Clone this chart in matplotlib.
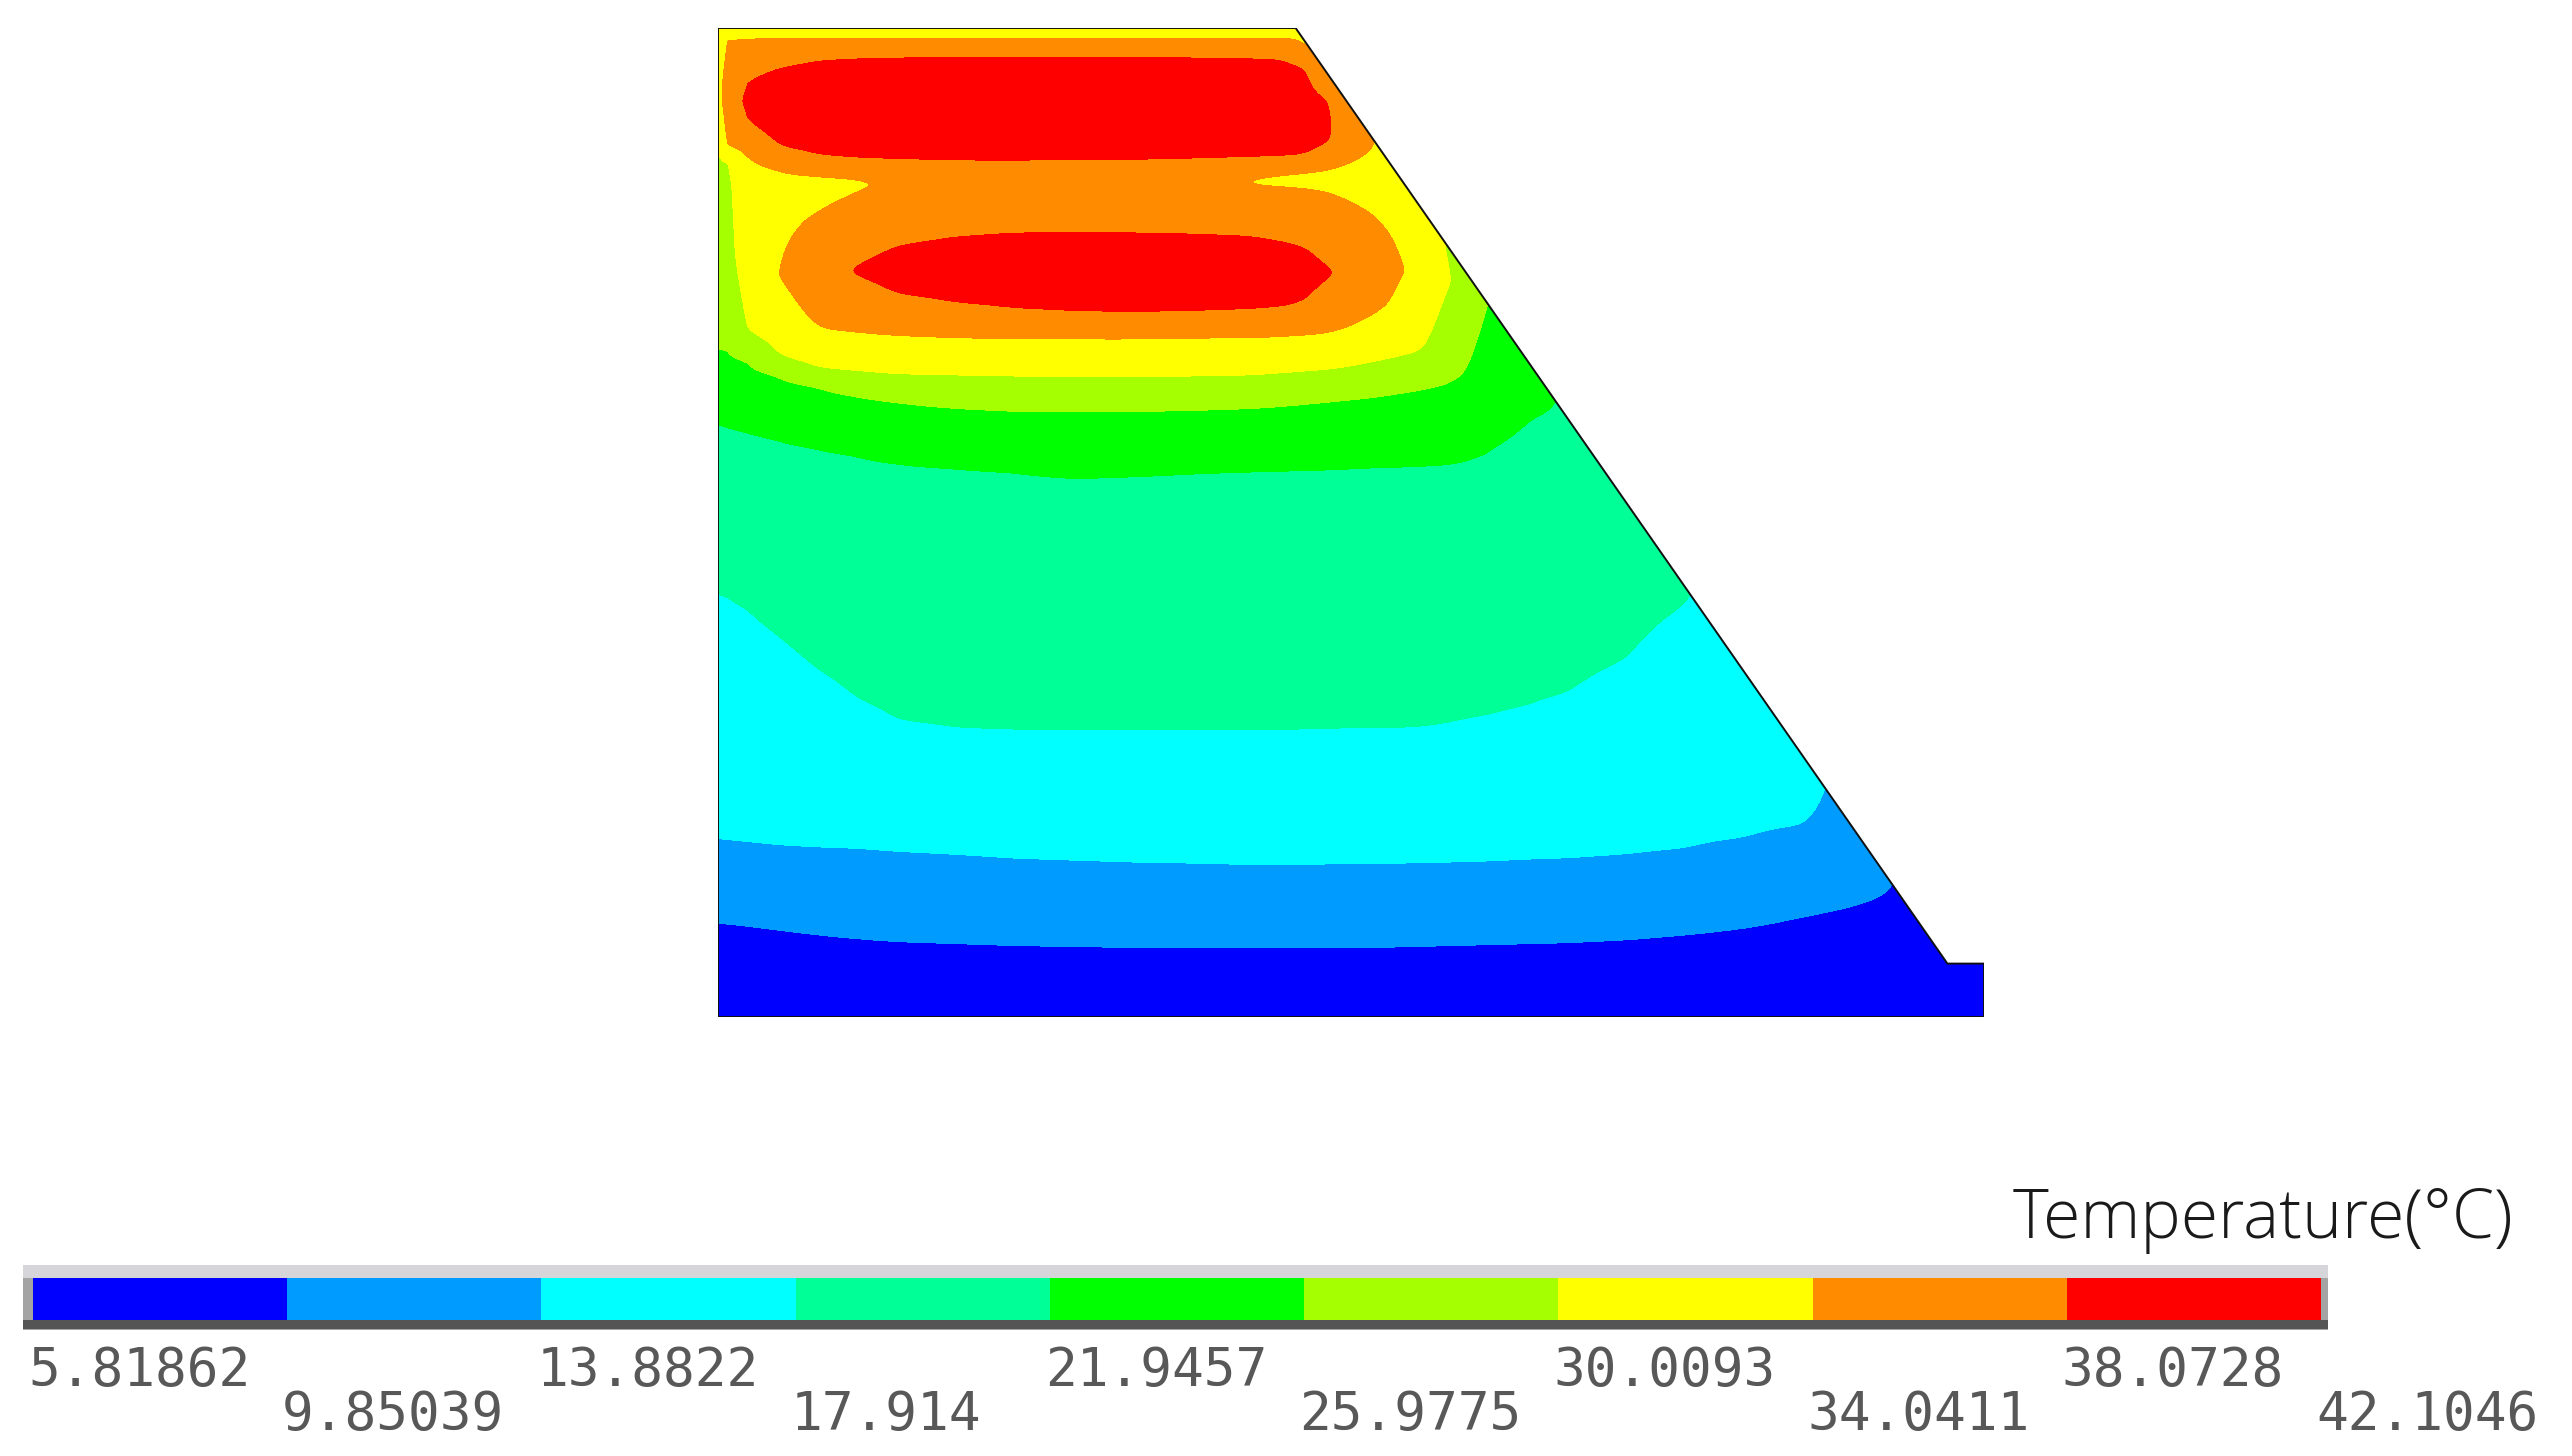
import numpy as np
import matplotlib
matplotlib.use("Agg")
import matplotlib.pyplot as plt
from matplotlib.patches import Polygon, Rectangle
import matplotlib.transforms as mtransforms

# ---------------- data ----------------
levels = [5.81862, 9.85039, 13.8822, 17.914, 21.9457, 25.9775, 30.0093, 34.0411, 38.0728, 42.1046]
level_labels = ["5.81862", "9.85039", "13.8822", "17.914", "21.9457",
                "25.9775", "30.0093", "34.0411", "38.0728", "42.1046"]
band_colors = ["#0000FF", "#009BFF", "#00FFFF", "#00FF96", "#00FF00",
               "#A5FF00", "#FFFF00", "#FF8C00", "#FF0000"]
legend_title = "Temperature(°C)"

# dam cross-section outline (model units)
dam_x = [0, 128, 128, 124.3, 58.4, 0]
dam_y = [0, 0, 5.4, 5.4, 100, 100]

# temperature readings along vertical lines: x position, knot heights, temperatures
col_x = [0, 1, 3, 6, 10, 14, 18, 24, 30, 36, 42, 48, 51, 54, 58, 60, 62, 64, 66, 68,
         70, 72, 74, 76, 78, 82, 86, 92, 98, 104, 110, 116, 121, 125, 128]
col_y = [
    [0, 9.5, 17.9, 42.8, 60.0, 67.5, 78, 88.5, 94, 100],
    [0, 9.4, 17.8, 42.4, 59.7, 67.2, 76, 84, 86.5, 88.1, 92.5, 98.9, 100],
    [0, 9.2, 17.6, 41.2, 59.2, 66.3, 69.2, 78, 84.5, 86.9, 90.6, 92.7, 94.8, 99.0, 100],
    [0, 8.8, 17.3, 38.6, 58.5, 64.9, 66.9, 75, 80, 83, 85.8, 88.0, 92, 96.0, 99.0, 100],
    [0, 8.3, 17.1, 35.2, 57.6, 63.8, 65.6, 69.6, 75.2, 81.2, 83.2, 85.2, 87.1, 92, 96.8, 99.0, 100],
    [0, 7.9, 17.0, 32.2, 56.9, 62.8, 65.3, 69.2, 75.0, 75.5, 76.0, 83.3, 84.1, 84.9, 86.8, 92, 97.0, 99.0, 100],
    [0, 7.6, 16.7, 30.0, 56.1, 62.2, 65.0, 68.9, 73.1, 75.5, 78.0, 84.4, 86.7, 92, 97.1, 99.0, 100],
    [0, 7.4, 16.4, 29.2, 55.6, 61.6, 64.9, 68.7, 72.2, 75.5, 78.9, 84.0, 86.6, 92, 97.1, 99.0, 100],
    [0, 7.2, 16.0, 29.0, 55.2, 61.3, 64.8, 68.6, 71.6, 75.4, 79.3, 83.8, 86.6, 92, 97.1, 99.0, 100],
    [0, 7.1, 15.8, 29.0, 54.6, 61.3, 64.7, 68.6, 71.3, 75.3, 79.3, 83.6, 86.7, 92, 97.1, 99.0, 100],
    [0, 7.0, 15.6, 29.0, 54.8, 61.3, 64.7, 68.6, 71.2, 75.3, 79.3, 83.7, 86.7, 92, 97.1, 99.0, 100],
    [0, 7.0, 15.5, 29.0, 55.1, 61.4, 64.8, 68.7, 71.3, 75.3, 79.2, 84.0, 86.8, 92, 97.1, 99.0, 100],
    [0, 7.0, 15.4, 29.0, 55.2, 61.5, 64.85, 68.7, 71.4, 75.3, 79.1, 84.3, 86.85, 92, 97.05, 99.0, 100],
    [0, 7.0, 15.4, 29.0, 55.3, 61.6, 64.9, 68.7, 71.5, 75.3, 79.0, 84.2, 84.5, 84.8, 86.9, 92, 97.0, 99.0, 100],
    [0, 7.0, 15.4, 29.0, 55.4, 61.9, 65.2, 68.9, 71.8, 75.2, 78.3, 84.0, 84.6, 85.2, 87.0, 92, 96.9, 99.0, 100],
    [0, 7.0, 15.4, 29.05, 55.45, 62.1, 65.35, 69.0, 72.5, 75.2, 77.7, 83.8, 84.6, 85.4, 87.2, 91.5, 96.0, 97.0, 97.7],
    [0, 7.0, 15.4, 29.1, 55.5, 62.3, 65.5, 69.2, 74.8, 75.2, 75.6, 83.5, 84.6, 85.7, 88.4, 90.5, 92.6, 94.0, 94.8],
    [0, 7.0, 15.45, 29.15, 55.6, 62.5, 65.8, 69.8, 75.5, 82.6, 84.6, 86.5, 89.0, 91.4, 92.0],
    [0, 7.0, 15.5, 29.2, 55.7, 62.7, 66.2, 70.8, 75.5, 81.4, 84.5, 87.6, 88.5, 89.1],
    [0, 7.05, 15.5, 29.2, 55.75, 63.0, 66.6, 72.0, 75.6, 79.2, 83.5, 86.2],
    [0, 7.1, 15.5, 29.2, 55.8, 63.3, 67.0, 75.5, 80, 83.3],
    [0, 7.15, 15.55, 29.4, 55.9, 63.7, 67.5, 75, 80.4],
    [0, 7.2, 15.6, 29.7, 56.0, 64.2, 74.3, 77.5],
    [0, 7.25, 15.65, 30.2, 56.5, 65.2, 74.7],
    [0, 7.3, 15.7, 30.5, 57.5, 71.9],
    [0, 7.4, 15.9, 31.5, 60.6, 66.1],
    [0, 7.5, 16.0, 32.8, 60.4],
    [0, 7.8, 16.4, 36.3, 51.8],
    [0, 8.3, 17.0, 41.8, 43.2],
    [0, 9.0, 18.1, 34.5],
    [0, 10.2, 19.4, 25.9],
    [0, 11.6, 17.3],
    [0, 10.1],
    [0, 5.4],
    [0, 5.4],
]
col_t = [
    [5.9, 9.85, 13.88, 17.91, 21.95, 25.98, 28.2, 30.01, 32.6, 31.0],
    [5.95, 9.85, 13.88, 17.91, 21.95, 25.98, 28.4, 29.3, 30.01, 34.04, 36.6, 34.04, 31.2],
    [6.0, 9.85, 13.88, 17.91, 21.95, 25.98, 30.01, 32.6, 32.9, 34.04, 38.07, 38.7, 38.07, 34.04, 31.5],
    [6.0, 9.85, 13.88, 17.91, 21.95, 25.98, 30.01, 33.9, 33.2, 33.4, 34.04, 38.07, 40.6, 38.07, 34.04, 31.5],
    [6.0, 9.85, 13.88, 17.91, 21.95, 25.98, 30.01, 34.04, 37.0, 34.04, 33.3, 34.04, 38.07, 41.3, 38.07, 34.04, 31.5],
    [6.0, 9.85, 13.88, 17.91, 21.95, 25.98, 30.01, 34.04, 38.07, 38.3, 38.07, 34.04, 33.7, 34.04, 38.07, 41.6, 38.07, 34.04, 31.5],
    [6.0, 9.85, 13.88, 17.91, 21.95, 25.98, 30.01, 34.04, 38.07, 39.3, 38.07, 34.3, 38.07, 41.8, 38.07, 34.04, 31.5],
    [6.0, 9.85, 13.88, 17.91, 21.95, 25.98, 30.01, 34.04, 38.07, 39.8, 38.07, 35.0, 38.07, 42.0, 38.07, 34.04, 31.5],
    [6.0, 9.85, 13.88, 17.91, 21.95, 25.98, 30.01, 34.04, 38.07, 40.1, 38.07, 35.4, 38.07, 42.1, 38.07, 34.04, 31.5],
    [5.85, 9.85, 13.88, 17.91, 21.95, 25.98, 30.01, 34.04, 38.07, 40.2, 38.07, 35.6, 38.07, 42.1, 38.07, 34.04, 31.5],
    [5.9, 9.85, 13.88, 17.91, 21.95, 25.98, 30.01, 34.04, 38.07, 40.2, 38.07, 35.5, 38.07, 42.1, 38.07, 34.04, 31.5],
    [6.0, 9.85, 13.88, 17.91, 21.95, 25.98, 30.01, 34.04, 38.07, 40.0, 38.07, 35.0, 38.07, 41.9, 38.07, 34.04, 31.5],
    [6.0, 9.85, 13.88, 17.91, 21.95, 25.98, 30.01, 34.04, 38.07, 39.9, 38.07, 34.4, 38.07, 41.8, 38.07, 34.04, 31.5],
    [6.0, 9.85, 13.88, 17.91, 21.95, 25.98, 30.01, 34.04, 38.07, 39.8, 38.07, 34.04, 33.8, 34.04, 38.07, 41.5, 38.07, 34.04, 31.5],
    [6.0, 9.85, 13.88, 17.91, 21.95, 25.98, 30.01, 34.04, 38.07, 39.3, 38.07, 34.04, 33.0, 34.04, 38.07, 41.0, 38.07, 34.04, 32.0],
    [6.0, 9.85, 13.88, 17.91, 21.95, 25.98, 30.01, 34.04, 38.07, 38.9, 38.07, 34.04, 32.7, 34.04, 38.07, 40.4, 38.07, 34.04, 33.2],
    [6.0, 9.85, 13.88, 17.91, 21.95, 25.98, 30.01, 34.04, 38.07, 38.2, 38.07, 34.04, 32.4, 34.04, 38.07, 38.5, 38.07, 34.04, 33.2],
    [6.0, 9.85, 13.88, 17.91, 21.95, 25.98, 30.01, 34.04, 37.4, 34.04, 32.0, 34.04, 36.5, 34.04, 33.3],
    [6.0, 9.85, 13.88, 17.91, 21.95, 25.98, 30.01, 34.04, 36.5, 34.04, 31.8, 34.04, 34.5, 33.5],
    [6.0, 9.85, 13.88, 17.91, 21.95, 25.98, 30.01, 34.04, 35.2, 34.04, 32.3, 32.5],
    [6.0, 9.85, 13.88, 17.91, 21.95, 25.98, 30.01, 33.6, 32.6, 32.0],
    [6.0, 9.85, 13.88, 17.91, 21.95, 25.98, 30.01, 32.0, 30.8],
    [6.0, 9.85, 13.88, 17.91, 21.95, 25.98, 30.1, 29.5],
    [6.0, 9.85, 13.88, 17.91, 21.95, 25.98, 28.3],
    [6.0, 9.85, 13.88, 17.91, 21.95, 25.6],
    [6.0, 9.85, 13.88, 17.91, 21.95, 23.6],
    [6.0, 9.85, 13.88, 17.91, 21.7],
    [6.0, 9.85, 13.88, 17.91, 19.5],
    [6.0, 9.85, 13.88, 17.91, 18.1],
    [6.0, 9.85, 13.88, 16.6],
    [6.1, 9.85, 13.88, 15.2],
    [6.2, 9.85, 12.3],
    [6.3, 9.2],
    [6.3, 7.6],
    [6.3, 7.6],
]

# ---------------- field on a fine grid ----------------
y_fine = np.linspace(0, 100, 801)
x_fine = np.linspace(0, 128, 1025)
Zc = np.array([np.interp(y_fine, ky, kt) for ky, kt in zip(col_y, col_t)]).T   # (ny, ncol)
Z0 = np.array([np.interp(x_fine, col_x, row) for row in Zc])                   # (ny, nx)


def smooth_rows(A, sigma_samples):
    half = int(3 * sigma_samples)
    k = np.exp(-0.5 * (np.arange(-half, half + 1) / sigma_samples) ** 2)
    k /= k.sum()
    P = np.pad(A, ((0, 0), (half, half)), mode="edge")
    return np.array([np.convolve(r, k, mode="valid") for r in P])


Zs = smooth_rows(Z0, 1.1 / (x_fine[1] - x_fine[0]))              # along x
w = np.clip((x_fine - 2.0) / 3.0, 0, 1)[None, :]                  # keep the thin strip at the left face
Z = w * Zs + (1 - w) * Z0
Z = smooth_rows(Z.T, 0.3 / (y_fine[1] - y_fine[0])).T             # along y
Z = np.clip(Z, levels[0] + 1e-3, levels[-1] - 1e-3)

# ---------------- figure ----------------
W, H = 2572, 1456
fig = plt.figure(figsize=(W / 100, H / 100), dpi=100, facecolor="white")

ov = fig.add_axes([0, 0, 1, 1], zorder=0)
ov.set_xlim(0, W)
ov.set_ylim(H, 0)
ov.axis("off")

ax = fig.add_axes([718 / W, (H - 1017) / H, 1266 / W, 989 / H], zorder=2)
ax.set_xlim(0, 128)
ax.set_ylim(0, 100)
ax.axis("off")

cs = ax.contourf(x_fine, y_fine, Z, levels=levels, colors=band_colors)
dam = Polygon(np.column_stack([dam_x, dam_y]), closed=True, facecolor="none",
              edgecolor="#111111", linewidth=1.4, zorder=5)
ax.add_patch(dam)
cs.set_clip_path(dam)

# ---------------- legend bar ----------------
ov.add_patch(Rectangle((23, 1265), 2305, 65, facecolor="#a4a4a4", edgecolor="none"))
ov.add_patch(Rectangle((23, 1265), 2305, 13, facecolor="#d6d6da", edgecolor="none"))
ov.add_patch(Rectangle((23, 1320), 2305, 9, facecolor="#555555", edgecolor="none"))

cax = fig.add_axes([33 / W, 1 - 1320 / H, (2321 - 33) / W, 42 / H], zorder=3)
cb = fig.colorbar(cs, cax=cax, orientation="horizontal", ticks=[])
cb.outline.set_visible(False)
cax.set_xticks([])

trans = mtransforms.blended_transform_factory(cax.transAxes, ov.transData)
trans = mtransforms.offset_copy(trans, fig=fig, x=-5, y=0, units="dots")
for i, lab in enumerate(level_labels):
    yb = 1386 if i % 2 == 0 else 1430
    ov.text(i / (len(level_labels) - 1), yb, lab, transform=trans, ha="left", va="baseline",
            fontsize=38, family=["DejaVu Sans Mono"], color="#585858")

ov.text(2513, 1238, legend_title, ha="right", va="baseline", fontsize=49,
        family=["Open Sans", "DejaVu Sans"], fontweight="light", color="#1a1a1a")

fig.savefig("out.png", dpi=100, facecolor="white")
